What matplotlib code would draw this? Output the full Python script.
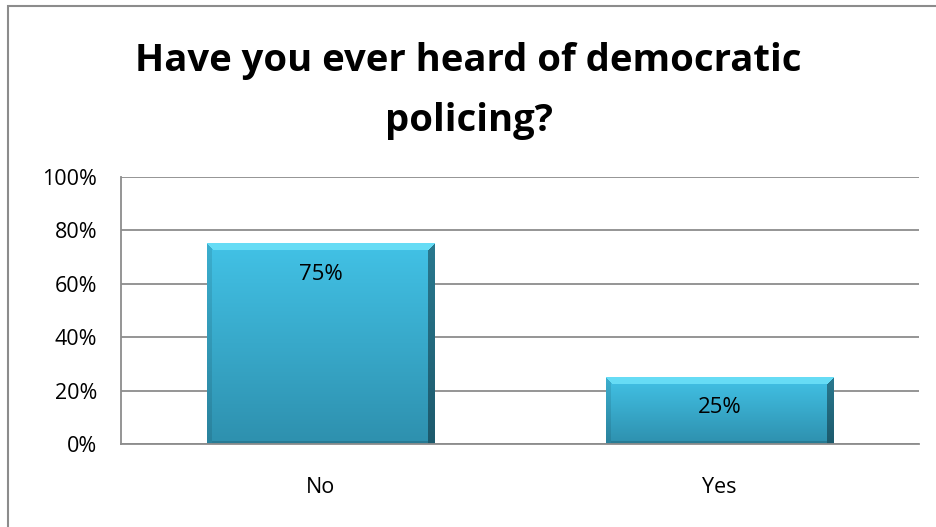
import matplotlib.pyplot as plt
import numpy as np
from matplotlib.patches import Rectangle

categorias = ['No', 'Yes']
valores = [0.75, 0.25]
rotulos_y = ['0%', '20%', '40%', '60%', '80%', '100%']
titulo = 'Have you ever heard of democratic\npolicing?'

plt.rcParams['font.family'] = ['Open Sans', 'DejaVu Sans']


def textura_barra(h, w, bisel=7):
    """Gradiente vertical com bordas chanfradas, estilo Excel."""
    topo = np.array([0x42, 0xc2, 0xe6]) / 255
    base = np.array([0x2e, 0x90, 0xae]) / 255
    t = np.linspace(0, 1, h)[:, None, None]
    img = topo * (1 - t) + base * t
    img = np.repeat(img, w, axis=1)
    yy, xx = np.mgrid[0:h, 0:w]
    # borda superior clara, direita escura, esquerda e inferior levemente escuras
    sup = (yy < bisel) & (yy <= xx) & (yy <= w - 1 - xx)
    dir_ = (xx >= w - bisel) & ~sup
    esq = (xx < bisel * 0.6) & ~sup
    inf = (yy >= h - 3) & ~dir_ & ~esq
    img[sup] = np.array([0x66, 0xdc, 0xf5]) / 255
    img[dir_] = img[dir_] * 0.62
    img[esq] = img[esq] * 0.9
    img[inf] = img[inf] * 0.85
    return img


fig = plt.figure(figsize=(9.37, 5.27), dpi=100, facecolor='white')
ax = fig.add_axes([121 / 937, 1 - 444 / 527, (919 - 121) / 937, (444 - 177) / 527])

x = np.arange(len(categorias))
barras = ax.bar(x, valores, width=0.57, color='none', zorder=3)

ax.set_xlim(-0.5, len(categorias) - 0.5)
ax.set_ylim(0, 1)
ax.set_yticks(np.linspace(0, 1, len(rotulos_y)))
ax.set_yticklabels(rotulos_y)
ax.set_xticks(x)
ax.set_xticklabels(categorias)
ax.tick_params(axis='both', length=0, labelsize=15.5, colors='black')
ax.tick_params(axis='y', pad=17)
ax.tick_params(axis='x', pad=24)
ax.grid(axis='y', color='#8c8c8c', linewidth=1.3, zorder=0)
for lado in ['top', 'right']:
    ax.spines[lado].set_visible(False)
ax.spines['left'].set_color('#8c8c8c')
ax.spines['bottom'].set_color('#8c8c8c')
ax.spines['left'].set_linewidth(1.3)
ax.spines['bottom'].set_linewidth(1.3)

for barra, v in zip(barras, valores):
    x0, y0 = barra.get_x(), barra.get_y()
    w, h = barra.get_width(), barra.get_height()
    p0 = ax.transData.transform((x0, y0))
    p1 = ax.transData.transform((x0 + w, y0 + h))
    wpx, hpx = int(round(p1[0] - p0[0])), int(round(p1[1] - p0[1]))
    ax.imshow(textura_barra(hpx, wpx), extent=(x0, x0 + w, y0, y0 + h),
              aspect='auto', zorder=2, interpolation='nearest')
    ax.annotate(f'{v:.0%}', (x0 + w / 2, y0 + h), xytext=(0, -22),
                textcoords='offset points', ha='center', va='center',
                fontsize=16, color='black', zorder=4)

ax.set_xlim(-0.5, len(categorias) - 0.5)
ax.set_ylim(0, 1)

fig.text(0.5, 1 - 91 / 527, titulo, ha='center', va='center',
         fontsize=27.5, fontweight='bold', linespacing=1.75)

# moldura do gráfico (só as bordas de cima e da esquerda ficam visíveis)
fig.add_artist(Rectangle((8 / 937, -0.05), 1.0, 1 - 6 / 527 + 0.05,
                         transform=fig.transFigure, fill=False,
                         edgecolor='#8c8c8c', linewidth=1.5))

fig.savefig('out.png', dpi=100, facecolor='white')
